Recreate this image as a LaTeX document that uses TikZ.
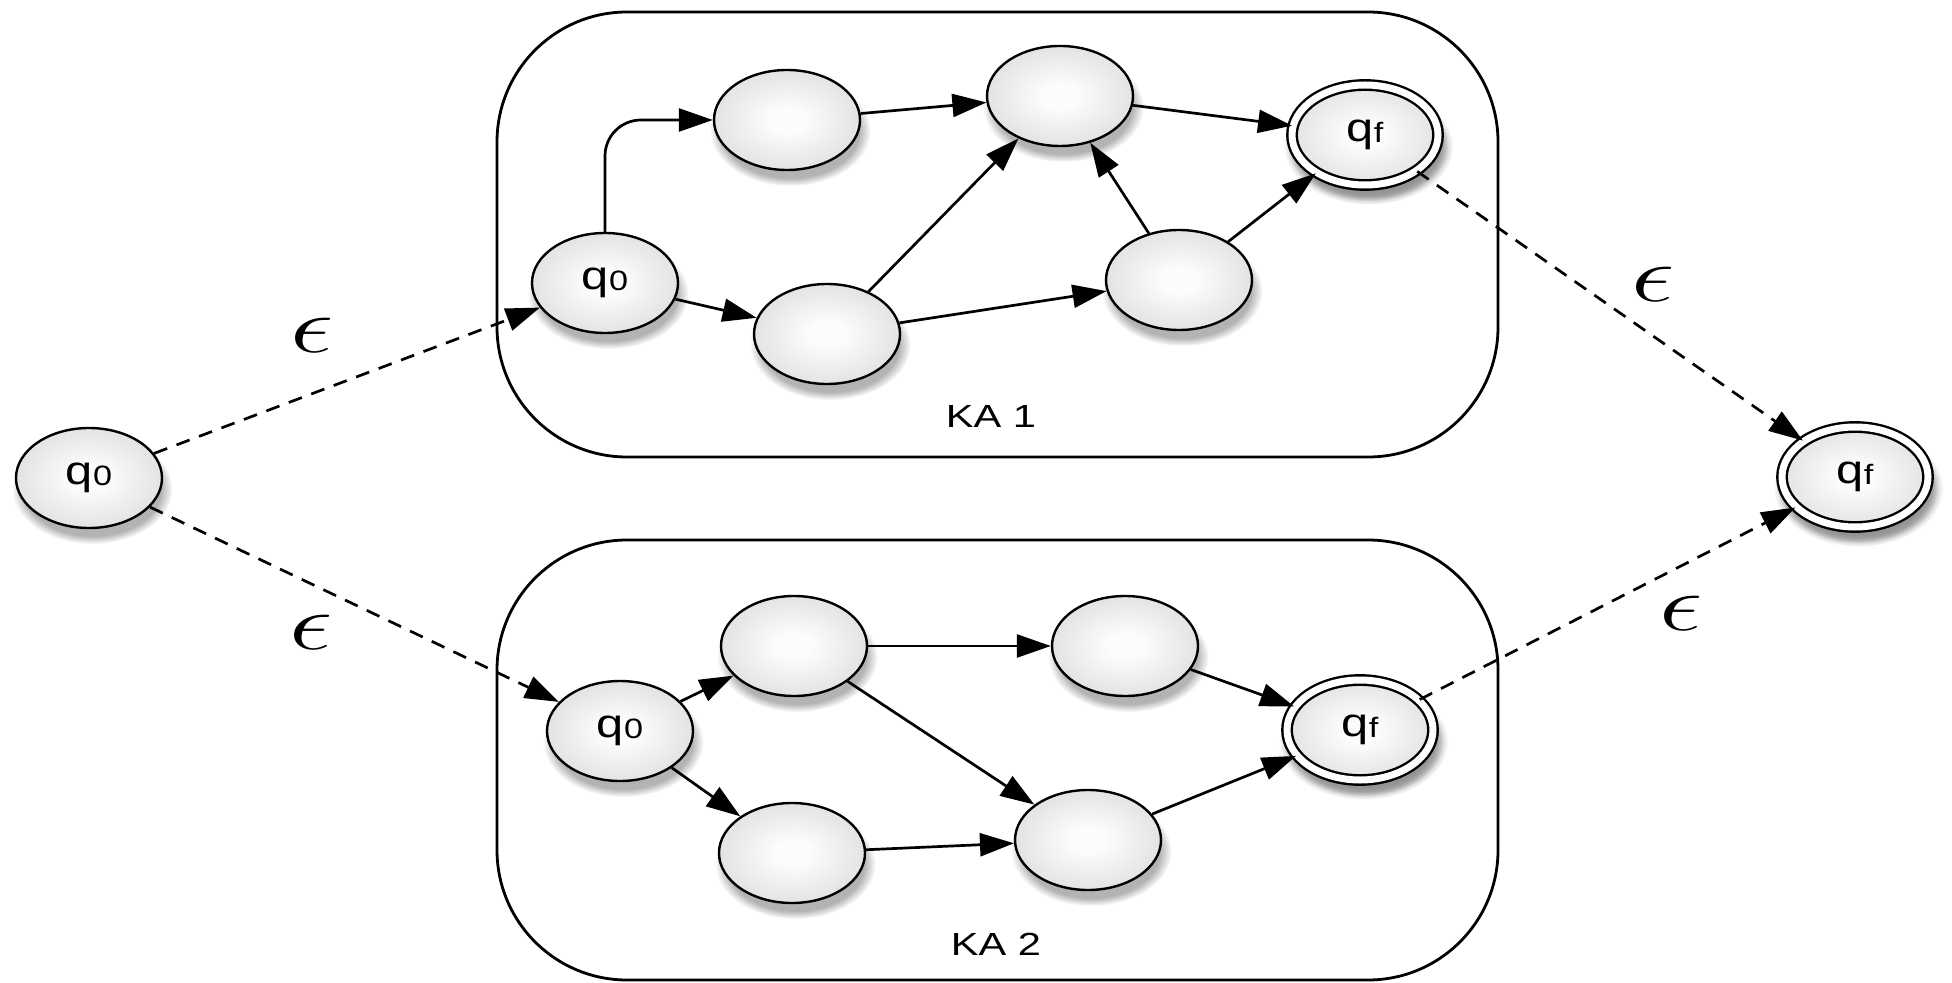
\documentclass[tikz,border=0pt]{standalone}
\usepackage{fontspec}
\setsansfont{Liberation Sans}
\usetikzlibrary{arrows.meta,shapes.geometric,shadows,fadings}

\definecolor{ballin}{RGB}{252,252,252}
\definecolor{ballmid}{RGB}{218,218,218}
\definecolor{ballout}{RGB}{172,172,172}
\pgfdeclareradialshading{stateball}{\pgfpoint{0bp}{0bp}}{%
  color(0bp)=(ballin); color(6bp)=(ballin); color(32bp)=(ballmid); color(50bp)=(ballout)}

% state label: letter with a small index, set a little wide
\newcommand{\stlab}[1]{\scalebox{1.22}[1]{q\raisebox{-0.5pt}{\fontsize{14}{14}\selectfont #1}}}
% the epsilon marks on the joining moves
\newcommand{\epsmark}{\scalebox{2.2}[1.6]{\Huge$\epsilon$}}

\begin{document}
\begin{tikzpicture}[x=0.5pt,y=-0.5pt,
  state/.style={ellipse, draw=black, line width=1.2pt, shading=stateball,
    minimum width=73pt, minimum height=50pt, inner sep=0pt,
    font=\sffamily\fontsize{20}{24}\selectfont,
    circular drop shadow={shadow xshift=1.5pt, shadow yshift=-5pt,
      shadow scale=1.1, opacity=0.6}},
  accept/.style={state, double=white, double distance=3.5pt,
    circular drop shadow={shadow xshift=1.5pt, shadow yshift=-5pt,
      shadow scale=1.16, opacity=0.6}},
  machine/.style={rectangle, draw=black, line width=1.4pt, rounded corners=65pt,
    minimum width=500.5pt, inner sep=0pt},
  kalabel/.style={font=\sffamily\fontsize{16}{18}\selectfont},
  eps/.style={inner sep=0pt},
  arr/.style={line width=1.35pt, -{Triangle[length=17pt,width=11.5pt]}},
  dasharr/.style={arr, dash pattern=on 7pt off 5pt},
]
\useasboundingbox (0,0) rectangle (1952,983);

% the two machines
\node[machine, minimum height=222.5pt] (ka1) at (997.5,234.5) {};
\node[machine, minimum height=220pt] (ka2) at (997.5,760) {};
\node[kalabel] (ka1lab) at (991,416) {\scalebox{1.3}[1]{KA 1}};
\node[kalabel] (ka2lab) at (996,944) {\scalebox{1.3}[1]{KA 2}};

% outer start and final states
\node[state] (s0) at (89,478) {\stlab{0}};
\node[accept] (sf) at (1855,477) {\stlab{f}};

% states of KA 1
\node[state] (a0) at (605,283) {\stlab{0}};
\node[state] (a1) at (787,120) {};
\node[state] (a2) at (1060,96) {};
\node[accept] (af) at (1365,135) {\stlab{f}};
\node[state] (a3) at (827,334) {};
\node[state] (a4) at (1179,280) {};

% states of KA 2
\node[state] (b0) at (620,731) {\stlab{0}};
\node[state] (b1) at (794,646) {};
\node[state] (b2) at (1125,646) {};
\node[accept] (bf) at (1360,730) {\stlab{f}};
\node[state] (b3) at (792,853) {};
\node[state] (b4) at (1088,840) {};

% transitions of KA 1
\draw[arr, rounded corners=18pt] (a0.north) |- (a1.west);
\draw[arr] (a1) -- (a2);
\draw[arr] (a2) -- (af);
\draw[arr] (a0) -- (a3);
\draw[arr] (a3) -- (a2);
\draw[arr] (a3) -- (a4);
\draw[arr] (a4) -- (a2);
\draw[arr] (a4) -- (af);

% transitions of KA 2
\draw[arr] (b0) -- (b1);
\draw[arr] (b0) -- (b3);
\draw[arr] (b1) -- (b2);
\draw[arr] (b1) -- (b4);
\draw[arr] (b2) -- (bf);
\draw[arr] (b3) -- (b4);
\draw[arr] (b4) -- (bf);

% epsilon moves joining the machines
\draw[dasharr] (s0) -- (a0);
\draw[dasharr] (s0) -- (b0);
\draw[dasharr] (af) -- (sf);
\draw[dasharr] (bf) -- (sf);

\node[eps] (e1) at (312,335) {\epsmark};
\node[eps] (e2) at (311,632) {\epsmark};
\node[eps] (e3) at (1653,284) {\epsmark};
\node[eps] (e4) at (1681,613) {\epsmark};
\end{tikzpicture}
\end{document}
